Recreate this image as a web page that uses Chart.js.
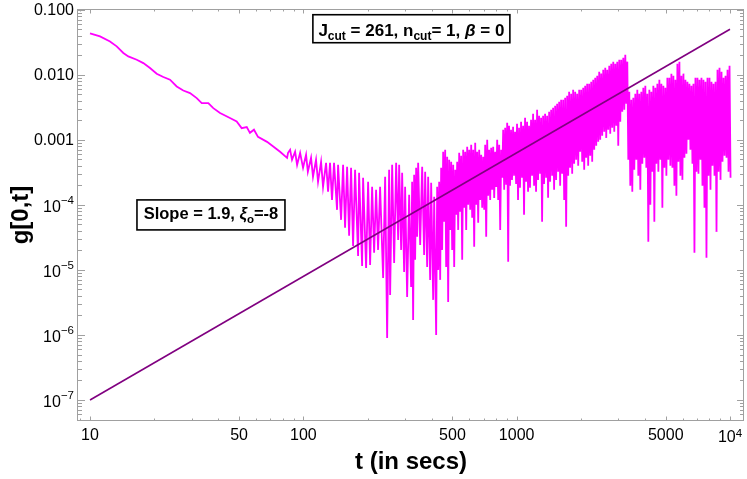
<!DOCTYPE html>
<html>
<head>
<meta charset="utf-8">
<script src="https://cdn.jsdelivr.net/npm/chart.js@4.4.1/dist/chart.umd.min.js"></script>
<style>
html,body{margin:0;padding:0;background:#fff;}
#wrap{width:747px;height:479px;position:relative;}
</style>
</head>
<body>
<div id="wrap"><canvas id="c" width="747" height="479"></canvas></div>
<script>
// ---- data (t in seconds, g[0,t]) ----
const smoothTime = [10.0, 11.14, 12.41, 13.34, 14.33, 15.12, 16.56, 17.78, 19.11, 20.54, 22.07, 23.71, 25.5, 27.37, 29.43, 31.64, 33.4, 35.86, 37.85, 40.7, 45.3, 48.7, 51.4, 54.3, 56.2, 58.7, 61.3, 67.6, 77.8, 83.9];
const smoothG = [0.0432, 0.0388, 0.0325, 0.0273, 0.0216, 0.0191, 0.0170, 0.0151, 0.0127, 0.01036, 0.00922, 0.00838, 0.0066, 0.00573, 0.00523, 0.00438, 0.00367, 0.00367, 0.00307, 0.00258, 0.00216, 0.00191, 0.00151, 0.00157, 0.00128, 0.00143, 0.00111, 0.00093, 0.000654, 0.000528];

const oscTime = [84.8, 86.7, 88.5, 91.5, 93.5, 96.6, 99.7, 103, 105, 108.7, 111, 114.7, 117.2, 121.1, 123.7, 127.8, 130.6, 133.4, 136.3, 139.3, 143.9, 145.5, 150.3, 153.6, 156.9, 160.4, 163.9, 167.4, 171.1, 174.8, 180.6, 182.5, 188.6, 190.6, 196.9, 201.2, 205.6, 210.1, 214.7, 219.3, 224.1, 229.0, 236.6, 241.8, 247.1, 252.4, 255.2, 260.8, 266.5, 272.3, 278.3, 281.3, 287.4, 290.5, 296.8, 300, 306.6, 313.3, 320.1, 323.6, 327.1, 330.7, 334.3, 337.9, 341.6, 345.3, 352.9, 360.6, 368.4, 372.4, 380.6, 384.7, 393.1, 397.4, 406.1, 410.5, 419.4, 424.0];
const oscG = [6.31e-4, 7.02e-4, 4.92e-4, 6.54e-4, 4.12e-4, 6.31e-4, 3.71e-4, 5.88e-4, 3.22e-4, 5.29e-4, 2.70e-4, 4.92e-4, 2.26e-4, 4.59e-4, 1.89e-4, 4.43e-4, 1.59e-4, 4.43e-4, 1.19e-4, 4.43e-4, 8.38e-5, 4.12e-4, 5.88e-5, 4.12e-4, 4.43e-5, 3.84e-4, 3.34e-5, 3.71e-4, 2.34e-5, 3.46e-4, 1.64e-5, 3.11e-4, 1.15e-5, 2.60e-4, 1.07e-5, 2.26e-4, 1.19e-5, 1.89e-4, 1.83e-5, 1.70e-4, 2.03e-5, 1.89e-4, 7.53e-6, 2.70e-4, 8.99e-7, 3.46e-4, 4.12e-6, 4.12e-4, 1.28e-5, 4.43e-4, 2.89e-5, 4.12e-4, 2.03e-5, 3.11e-4, 9.32e-6, 1.89e-4, 3.84e-6, 1.43e-4, 5.48e-6, 2.26e-4, 1.70e-6, 2.89e-4, 1.43e-5, 3.71e-4, 3.22e-5, 4.43e-4, 2.42e-5, 3.84e-4, 1.70e-5, 3.22e-4, 1.11e-5, 2.70e-4, 7.02e-6, 2.18e-4, 3.46e-6, 1.33e-4, 1.00e-6, 1.89e-4];

const beatTime = [428.6, 433.3, 438.0, 442.7, 447.5, 452.4, 457.3, 462.3, 467.3, 472.4, 477.5, 482.7, 488.0, 493.3, 498.6, 504.1, 509.5, 515.1, 520.7, 526.3, 532.0, 537.8, 543.6, 549.5, 555.5, 561.5, 567.6, 573.8, 580.0, 586.3, 592.7, 599.1, 605.6, 612.2, 618.8, 625.5, 632.3, 639.2, 646.1, 653.1, 660.2, 667.4, 674.6, 681.9, 689.3, 696.8, 704.4, 712.0, 719.8, 727.6, 735.5, 743.5, 751.5, 759.7, 767.9, 776.3, 784.7, 793.2, 801.8, 810.5, 819.3, 828.2, 837.2, 846.3, 855.5, 864.7, 874.1, 883.6, 893.2, 902.9, 912.7];
const beatG = [1.00e-5, 2.26e-4, 7.02e-6, 3.71e-4, 2.03e-5, 6.54e-4, 5.48e-5, 7.02e-4, 1.11e-5, 5.48e-4, 3.22e-6, 4.92e-4, 4.12e-5, 4.59e-4, 2.03e-5, 4.12e-4, 1.11e-5, 3.46e-4, 7.02e-5, 4.59e-4, 4.12e-5, 6.31e-4, 7.80e-5, 5.67e-4, 1.43e-5, 7.02e-4, 8.99e-5, 6.54e-4, 4.12e-5, 7.80e-4, 1.00e-4, 7.02e-4, 8.38e-5, 8.38e-4, 6.31e-5, 7.02e-4, 2.26e-5, 8.99e-4, 1.00e-4, 6.54e-4, 5.29e-5, 7.02e-4, 1.19e-4, 5.88e-4, 8.99e-5, 5.48e-4, 8.38e-5, 8.38e-4, 3.22e-5, 1.00e-3, 1.38e-4, 7.02e-4, 1.19e-4, 7.53e-4, 1.70e-4, 7.80e-4, 1.28e-4, 6.54e-4, 1.89e-4, 1.00e-3, 1.19e-4, 8.38e-4, 4.12e-5, 7.02e-4, 2.60e-4, 1.43e-3, 1.70e-4, 1.53e-3, 2.03e-4, 1.83e-3, 1.33e-5];

const denseTime = [921, 931, 941, 951, 962, 972, 983, 994, 1004, 1015, 1026, 1037, 1049, 1060, 1072, 1083, 1095, 1107, 1119, 1131, 1143, 1155, 1168, 1181, 1194, 1207, 1220, 1233, 1247, 1260, 1274, 1288, 1302, 1316, 1330, 1344, 1359, 1374, 1389, 1404, 1420, 1435, 1451, 1467, 1482, 1498, 1515, 1531, 1548, 1565, 1582, 1599, 1616, 1634, 1652, 1670, 1688, 1706, 1725, 1744, 1762, 1781, 1801, 1821, 1840, 1860, 1881, 1901, 1922, 1943, 1964, 1985, 2007, 2029, 2051, 2073, 2095, 2118, 2141, 2164, 2188, 2212, 2236, 2260, 2285, 2310, 2335, 2360, 2386, 2412, 2438, 2464, 2491, 2518, 2546, 2574, 2602, 2630, 2658, 2687, 2717, 2746, 2776, 2806, 2837, 2868, 2899, 2930, 2962, 2994, 3027, 3060, 3093, 3127, 3161, 3196, 3230, 3265, 3301, 3337, 3373, 3410, 3447, 3484, 3522, 3560, 3599, 3638, 3678, 3718, 3758, 3799, 3840, 3882, 3924, 3967, 4010, 4054, 4098, 4142, 4188, 4233, 4279, 4326, 4373, 4420, 4468, 4517, 4566, 4616, 4666, 4717, 4768, 4820, 4872, 4925, 4979, 5033, 5088, 5143, 5199, 5255, 5313, 5371, 5429, 5488, 5548, 5608, 5669, 5731, 5793, 5856, 5920, 5984, 6050, 6116, 6182, 6249, 6317, 6386, 6455, 6525, 6597, 6669, 6741, 6814, 6888, 6963, 7039, 7115, 7193, 7271, 7350, 7430, 7511, 7592, 7675, 7758, 7843, 7928, 8015, 8102, 8190, 8279, 8369, 8460, 8553, 8646, 8740, 8835, 8931, 9028, 9126, 9225, 9326, 9427, 9530, 9633, 9738, 9844, 9951, 10059];
const denseG = [1.64e-3, 1.96e-4, 1.43e-3, 2.42e-4, 1.59e-3, 2.79e-4, 1.33e-3, 2.10e-4, 1.76e-3, 1.19e-4, 1.53e-3, 1.83e-4, 1.89e-3, 2.60e-4, 1.64e-3, 7.02e-5, 2.18e-3, 2.26e-4, 1.89e-3, 1.59e-4, 1.64e-3, 1.83e-4, 2.03e-3, 2.79e-4, 2.51e-3, 1.96e-4, 2.03e-3, 1.59e-4, 2.89e-3, 2.42e-4, 2.34e-3, 3.00e-4, 2.18e-3, 5.48e-5, 2.34e-3, 2.10e-4, 2.51e-3, 2.60e-4, 2.34e-3, 1.28e-4, 2.70e-3, 2.26e-4, 2.89e-3, 2.79e-4, 3.11e-3, 1.70e-4, 3.34e-3, 2.42e-4, 3.58e-3, 3.22e-4, 3.84e-3, 1.96e-4, 4.12e-3, 3.00e-4, 4.12e-3, 1.19e-4, 4.43e-3, 4.59e-5, 4.75e-3, 2.79e-4, 5.48e-3, 3.71e-4, 5.10e-3, 3.00e-4, 5.88e-3, 4.27e-4, 5.48e-3, 4.92e-4, 5.10e-3, 3.98e-4, 5.88e-3, 6.54e-4, 5.88e-3, 4.59e-4, 6.31e-3, 3.46e-4, 6.77e-3, 5.29e-4, 7.27e-3, 3.98e-4, 7.27e-3, 5.67e-4, 7.80e-3, 4.59e-4, 8.38e-3, 7.02e-4, 8.99e-3, 8.08e-4, 9.65e-3, 9.32e-4, 1.11e-2, 1.00e-3, 1.04e-2, 1.15e-3, 1.19e-2, 1.33e-3, 1.28e-2, 1.07e-3, 1.19e-2, 1.43e-3, 1.38e-2, 1.24e-3, 1.48e-2, 1.53e-3, 1.59e-2, 1.33e-3, 1.48e-2, 1.64e-3, 1.59e-2, 8.08e-4, 1.70e-2, 1.89e-3, 1.70e-2, 2.70e-3, 1.83e-2, 2.89e-3, 2.03e-2, 3.58e-3, 1.59e-2, 4.92e-4, 5.48e-3, 1.96e-4, 4.12e-3, 1.59e-4, 4.43e-3, 3.46e-4, 5.10e-3, 4.92e-4, 5.88e-3, 2.79e-4, 5.10e-3, 1.70e-4, 5.48e-3, 4.27e-4, 6.31e-3, 5.29e-4, 6.77e-3, 3.71e-4, 5.10e-3, 2.70e-5, 5.88e-3, 1.00e-4, 5.48e-3, 3.22e-4, 6.77e-3, 5.48e-5, 6.31e-3, 4.27e-4, 7.27e-3, 3.22e-4, 8.38e-3, 4.92e-4, 7.27e-3, 8.99e-5, 6.77e-3, 3.71e-4, 6.31e-3, 2.79e-4, 8.99e-3, 4.92e-4, 8.99e-3, 3.98e-4, 1.04e-2, 3.71e-4, 9.65e-3, 1.96e-4, 8.38e-3, 1.38e-4, 1.48e-2, 4.59e-4, 1.59e-2, 2.79e-4, 9.65e-3, 2.42e-4, 1.04e-2, 5.29e-4, 8.38e-3, 6.09e-4, 7.80e-3, 1.00e-3, 7.27e-3, 7.02e-4, 6.77e-3, 4.27e-4, 7.27e-3, 1.83e-5, 8.99e-3, 3.22e-4, 8.99e-3, 3.00e-4, 8.38e-3, 4.92e-4, 8.99e-3, 1.96e-4, 8.38e-3, 8.99e-5, 7.80e-3, 1.53e-5, 8.99e-3, 2.79e-4, 8.99e-3, 1.70e-4, 7.80e-3, 3.98e-4, 7.27e-3, 2.79e-4, 7.80e-3, 3.84e-5, 1.19e-2, 3.22e-4, 1.28e-2, 2.42e-4, 1.11e-2, 4.59e-4, 8.99e-3, 5.67e-4, 9.65e-3, 5.29e-4, 1.19e-2, 3.22e-4, 1.38e-2, 2.60e-4];

// fitted power law, slope 1.9 (two end points)
const fitTime = [10, 10000];
const fitG = [1.0e-7, 0.0501];

// ticks
const xTickValues = [10, 50, 100, 500, 1000, 5000, 10000];
const xTickLabels = ['10', '50', '100', '500', '1000', '5000', '10^4'];
const xMinorTicks = [9, 20, 30, 40, 60, 70, 80, 90, 200, 300, 400, 600, 700, 800, 900, 2000, 3000, 4000, 6000, 7000, 8000, 9000];
const yTickValues = [0.1, 0.01, 0.001, 1e-4, 1e-5, 1e-6, 1e-7];
const yTickLabels = ['0.100', '0.010', '0.001', '10^-4', '10^-5', '10^-6', '10^-7'];

const xTitle = 't (in secs)';
const yTitle = 'g[0,t]';

// ---- build datasets ----
const gTime = smoothTime.concat(oscTime, beatTime, denseTime);
const gVals = smoothG.concat(oscG, beatG, denseG);
const gPoints = gTime.map((t, i) => ({x: t, y: gVals[i]}));
const fitPoints = fitTime.map((t, i) => ({x: t, y: fitG[i]}));

const FONT = '"Liberation Sans", Arial, Helvetica, sans-serif';
const FRAME = '#a0a0a0';
const LABEL_PX = 16, EXP_PX = 11.5;

function drawRich(ctx, segs, cx, baseline) {
  let total = 0;
  segs.forEach(s => { ctx.font = s.font; s.w = ctx.measureText(s.text).width; total += s.w; });
  let x = cx - total / 2;
  ctx.textAlign = 'left';
  ctx.textBaseline = 'alphabetic';
  segs.forEach(s => { ctx.font = s.font; ctx.fillText(s.text, x, baseline + (s.dy || 0)); x += s.w; });
}

function splitLabel(lbl) {
  const parts = lbl.split('^');
  return {base: parts[0], exp: parts.length > 1 ? parts[1].replace('-', '\u2212') : null};
}

const framePlugin = {
  id: 'framePlugin',
  afterDraw(chart) {
    const ctx = chart.ctx, a = chart.chartArea;
    const sx = chart.scales.x, sy = chart.scales.y;
    ctx.save();
    // frame
    ctx.strokeStyle = FRAME;
    ctx.lineWidth = 1;
    ctx.strokeRect(Math.round(a.left) - 0.5, Math.round(a.top) + 0.5, Math.round(a.right - a.left), Math.round(a.bottom - a.top) - 1);
    // x ticks (bottom & top, pointing inward)
    const xt = (v, len) => {
      const px = Math.round(sx.getPixelForValue(v)) + 0.5;
      if (px < a.left || px > a.right) return;
      ctx.beginPath();
      ctx.moveTo(px, a.bottom); ctx.lineTo(px, a.bottom - len);
      ctx.moveTo(px, a.top); ctx.lineTo(px, a.top + len);
      ctx.stroke();
    };
    xTickValues.forEach(v => xt(v, 4.5));
    xMinorTicks.forEach(v => xt(v, 2.5));
    // y ticks (left & right)
    const yt = (v, len) => {
      const py = Math.round(sy.getPixelForValue(v)) + 0.5;
      if (py < a.top || py > a.bottom) return;
      ctx.beginPath();
      ctx.moveTo(a.left, py); ctx.lineTo(a.left + len, py);
      ctx.moveTo(a.right, py); ctx.lineTo(a.right - len, py);
      ctx.stroke();
    };
    yTickValues.forEach(v => yt(v, 7));
    for (let e = -8; e <= -2; e++) {
      for (let k = 2; k <= 9; k++) yt(k * Math.pow(10, e), 4);
    }
    // tick labels
    ctx.fillStyle = '#000';
    ctx.textBaseline = 'alphabetic';
    xTickValues.forEach((v, i) => {
      const px = sx.getPixelForValue(v);
      const L = splitLabel(xTickLabels[i]);
      ctx.font = LABEL_PX + 'px ' + FONT;
      const wb = ctx.measureText(L.base).width;
      if (!L.exp) {
        ctx.textAlign = 'center';
        ctx.fillText(L.base, px, 440);
      } else {
        ctx.font = EXP_PX + 'px ' + FONT;
        const we = ctx.measureText(L.exp).width;
        const x0 = px - (wb + we) / 2;
        ctx.textAlign = 'left';
        ctx.font = LABEL_PX + 'px ' + FONT;
        ctx.fillText(L.base, x0, 442);
        ctx.font = EXP_PX + 'px ' + FONT;
        ctx.fillText(L.exp, x0 + wb, 437);
      }
    });
    const yRight = a.left - 4;
    yTickValues.forEach((v, i) => {
      const py = sy.getPixelForValue(v);
      const L = splitLabel(yTickLabels[i]);
      ctx.textAlign = 'left';
      if (!L.exp) {
        ctx.font = LABEL_PX + 'px ' + FONT;
        const wb = ctx.measureText(L.base).width;
        ctx.fillText(L.base, yRight - wb, py + 5.5);
      } else {
        ctx.font = EXP_PX + 'px ' + FONT;
        const we = ctx.measureText(L.exp).width;
        ctx.font = LABEL_PX + 'px ' + FONT;
        const wb = ctx.measureText(L.base).width;
        ctx.fillText(L.base, yRight - we - wb, py + 7);
        ctx.font = EXP_PX + 'px ' + FONT;
        ctx.fillText(L.exp, yRight - we, py - 1);
      }
    });
    // annotation boxes
    const box = (cx, cy, w, h) => {
      ctx.fillStyle = '#fff';
      ctx.fillRect(cx - w / 2, cy - h / 2, w, h);
      ctx.strokeStyle = '#000';
      ctx.lineWidth = 1.6;
      ctx.strokeRect(cx - w / 2, cy - h / 2, w, h);
      ctx.fillStyle = '#000';
    };
    const c1x = sx.getPixelForValue(321), c1y = sy.getPixelForValue(0.051);
    box(c1x, c1y, 197, 28);
    drawRich(ctx, [
      {text: 'J', font: 'bold 17px ' + FONT},
      {text: 'cut', font: 'bold 12px ' + FONT, dy: 4},
      {text: ' = 261, n', font: 'bold 17px ' + FONT},
      {text: 'cut', font: 'bold 12px ' + FONT, dy: 4},
      {text: '= 1, ', font: 'bold 17px ' + FONT},
      {text: '\u03B2', font: 'italic bold 17px ' + FONT},
      {text: ' = 0', font: 'bold 17px ' + FONT}
    ], c1x, c1y + 7.5);
    const c2x = sx.getPixelForValue(36.9), c2y = sy.getPixelForValue(7.0e-5);
    box(c2x, c2y, 148, 30);
    drawRich(ctx, [
      {text: 'Slope = 1.9, ', font: 'bold 16.5px ' + FONT},
      {text: '\u03BE', font: 'italic bold 16.5px ' + FONT},
      {text: 'o', font: 'bold 11.5px ' + FONT, dy: 4},
      {text: '=-8', font: 'bold 16.5px ' + FONT}
    ], c2x, c2y + 4.5);
    // axis titles
    ctx.fillStyle = '#000';
    ctx.font = 'bold 24px ' + FONT;
    ctx.textAlign = 'center';
    ctx.textBaseline = 'alphabetic';
    ctx.fillText(xTitle, (a.left + a.right) / 2, 469);
    ctx.save();
    ctx.translate(28, (a.top + a.bottom) / 2);
    ctx.rotate(-Math.PI / 2);
    ctx.fillText(yTitle, 0, 0);
    ctx.restore();
    ctx.restore();
  }
};

const zeroPad = s => { s.paddingLeft = 0; s.paddingRight = 0; s.paddingTop = 0; s.paddingBottom = 0; };

new Chart(document.getElementById('c').getContext('2d'), {
  type: 'line',
  data: {
    datasets: [
      {label: 'fit', data: fitPoints, borderColor: '#800080', borderWidth: 1.6, pointRadius: 0, tension: 0, order: 0},
      {label: 'g[0,t]', data: gPoints, borderColor: '#ff00ff', borderWidth: 1.8, pointRadius: 0, tension: 0, order: 1}
    ]
  },
  options: {
    responsive: false,
    animation: false,
    devicePixelRatio: 1,
    layout: {padding: {top: 9, right: 3, left: 0, bottom: 0}},
    plugins: {legend: {display: false}, tooltip: {enabled: false}},
    scales: {
      x: {
        type: 'logarithmic', position: 'bottom', min: 8.785, max: 11633,
        afterBuildTicks(s) { s.ticks = xTickValues.map(v => ({value: v})); },
        afterFit(s) { s.height = 58; zeroPad(s); },
        ticks: {display: false, autoSkip: false, maxRotation: 0},
        grid: {display: false, drawTicks: false},
        border: {display: false}
      },
      y: {
        type: 'logarithmic', position: 'left', min: 4.75e-8, max: 0.1025,
        afterBuildTicks(s) { s.ticks = yTickValues.map(v => ({value: v})); },
        afterFit(s) { s.width = 78; zeroPad(s); },
        ticks: {display: false, autoSkip: false},
        grid: {display: false, drawTicks: false},
        border: {display: false}
      }
    }
  },
  plugins: [framePlugin]
});
</script>
</body>
</html>
